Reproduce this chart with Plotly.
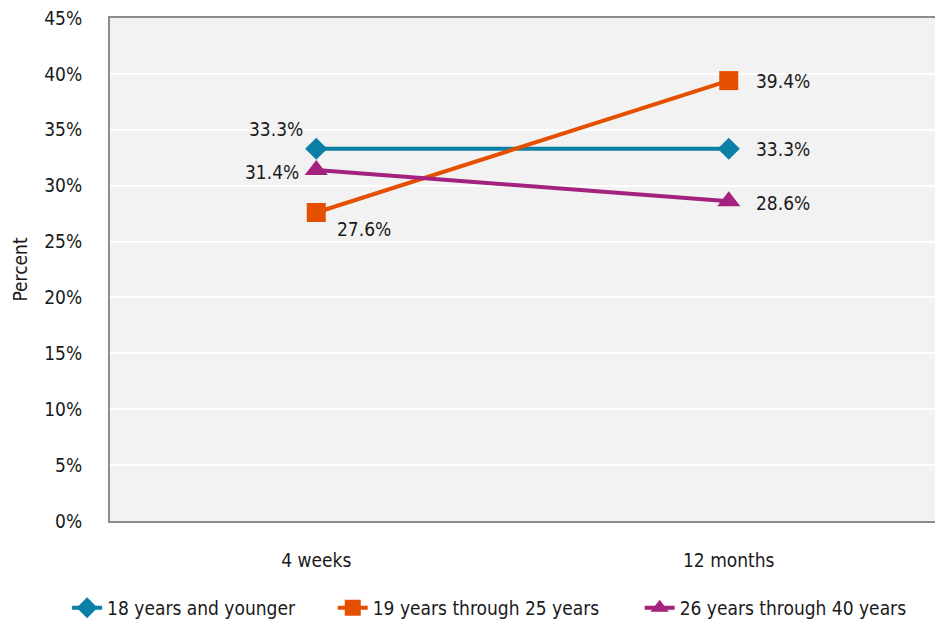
import plotly.graph_objects as go

categories = ["4 weeks", "12 months"]
series_names = ["18 years and younger", "19 years through 25 years", "26 years through 40 years"]
values_18_younger = [33.3, 33.3]
values_19_25 = [27.6, 39.4]
values_26_40 = [31.4, 28.6]
y_ticks = [0, 5, 10, 15, 20, 25, 30, 35, 40, 45]
y_tick_labels = [f"{v}%" for v in y_ticks]

colors = ["#0b7fa5", "#e55000", "#a3217f"]
symbols = ["diamond", "square", "triangle-up"]
marker_sizes = [17, 19, 20]
# label offsets (xshift, yshift) per point
label_offsets = [
    [(-40, 20), (54, 0)],
    [(48, -17), (54, 0)],
    [(-44, -2), (54, -2)],
]
legend_ids = ["legend", "legend2", "legend3"]
legend_x = [-0.052, 0.270, 0.642]

FONT = "DejaVu Sans Condensed, Liberation Sans Narrow, sans-serif"
TXT = "#1a1a1a"
FS = 19

fig = go.Figure()
all_vals = [values_18_younger, values_19_25, values_26_40]
for name, vals, c, s, ms, lg in zip(series_names, all_vals, colors, symbols, marker_sizes, legend_ids):
    fig.add_trace(go.Scatter(
        x=categories, y=vals, name=name, mode="lines+markers",
        line=dict(color=c, width=4),
        marker=dict(symbol=s, size=ms, color=c),
        cliponaxis=False, legend=lg,
    ))

for vals, offs in zip(all_vals, label_offsets):
    for cat, v, (dx, dy) in zip(categories, vals, offs):
        fig.add_annotation(x=cat, y=v, xref="x", yref="y", text=f"{v:.1f}%",
                           showarrow=False, xshift=dx, yshift=dy,
                           font=dict(size=FS, color=TXT, family=FONT))

legend_common = dict(orientation="h", xanchor="left", y=-0.135, yanchor="top",
                     font=dict(size=FS, family=FONT, color=TXT), bgcolor="rgba(0,0,0,0)")

fig.update_layout(
    width=935, height=620,
    margin=dict(l=110, r=0, t=18, b=99, autoexpand=False),
    paper_bgcolor="white",
    plot_bgcolor="#f2f2f2",
    font=dict(family=FONT, size=FS, color=TXT),
    showlegend=True,
    legend=dict(x=legend_x[0], **legend_common),
    legend2=dict(x=legend_x[1], **legend_common),
    legend3=dict(x=legend_x[2], **legend_common),
    xaxis=dict(range=[-0.5, 1.5], showgrid=False, ticks="", showline=True, automargin=False,
               linecolor="#8c8c8c", linewidth=2, mirror=True, tickfont=dict(size=FS),
               ticklabelstandoff=21),
    yaxis=dict(range=[0, 45], tickvals=y_ticks, ticktext=y_tick_labels, automargin=False,
               showgrid=True, gridcolor="white", gridwidth=1.5, zeroline=False,
               showline=True, linecolor="#8c8c8c", linewidth=2, mirror=True,
               tickfont=dict(size=FS), ticklabelstandoff=22,
               title=dict(text="Percent", font=dict(size=FS), standoff=12)),
)

fig.write_html("out.html", config={"displayModeBar": False},
               post_script="document.body.style.margin='0';document.body.style.padding='0';document.body.style.overflow='hidden';")
